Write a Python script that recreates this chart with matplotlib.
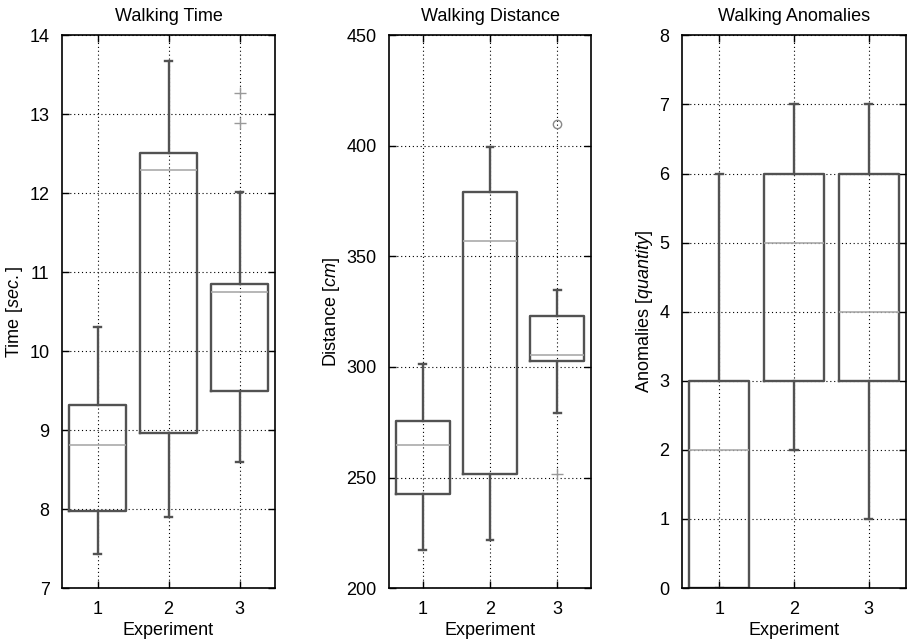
import matplotlib
matplotlib.use("Agg")
import matplotlib.pyplot as plt

plt.rcParams['font.family'] = ['Liberation Sans', 'DejaVu Sans']
plt.rcParams['mathtext.fontset'] = 'custom'
plt.rcParams['mathtext.it'] = 'Liberation Sans:italic'
plt.rcParams['mathtext.rm'] = 'Liberation Sans'

experiments = [1, 2, 3]

# Walking time (sec.)
time_q1 = [7.97, 8.97, 9.50]
time_med = [8.81, 12.30, 10.75]
time_q3 = [9.32, 12.51, 10.85]
time_lo = [7.43, 7.90, 8.60]
time_hi = [10.30, 13.68, 12.01]
time_out_x = [3, 3]
time_out_y = [12.89, 13.27]
time_out_marker = ['+', '+']

# Walking distance (cm)
dist_q1 = [242.6, 251.6, 302.5]
dist_med = [264.5, 357.0, 305.5]
dist_q3 = [275.4, 379.0, 323.0]
dist_lo = [217.0, 221.7, 279.4]
dist_hi = [301.5, 399.5, 335.0]
dist_out_x = [3, 3]
dist_out_y = [251.5, 410.0]
dist_out_marker = ['+', 'o']

# Walking anomalies (quantity)
anom_q1 = [0, 3, 3]
anom_med = [2, 5, 4]
anom_q3 = [3, 6, 6]
anom_lo = [0, 2, 1]
anom_hi = [6, 7, 7]

BOX = '#525252'
MED = '#aaaaaa'


def make_stats(q1, med, q3, lo, hi):
    return [dict(q1=a, med=b, q3=c, whislo=d, whishi=e, fliers=[])
            for a, b, c, d, e in zip(q1, med, q3, lo, hi)]


def draw_panel(ax, stats, title, ylabel, ylim, yticks, out_x=(), out_y=(), out_m=()):
    ax.bxp(stats, positions=experiments, widths=0.8, capwidths=0.1,
           showfliers=False,
           boxprops=dict(color=BOX, linewidth=1.7),
           whiskerprops=dict(color=BOX, linewidth=1.7),
           capprops=dict(color=BOX, linewidth=1.7),
           medianprops=dict(color=MED, linewidth=1.2))
    for x, y, m in zip(out_x, out_y, out_m):
        if m == 'o':
            ax.plot(x, y, marker='o', ms=6, mfc='none', mec='#888888', mew=1.0)
        else:
            ax.plot(x, y, marker='+', ms=8, color='#999999', mew=1.0)
    ax.set_xlim(0.5, 3.5)
    ax.set_ylim(*ylim)
    ax.set_yticks(yticks)
    ax.set_xticks(experiments)
    ax.set_xticklabels([str(e) for e in experiments])
    ax.grid(True, color='black', linestyle=(0, (1, 2.5)), linewidth=0.8)
    ax.set_axisbelow(True)
    ax.tick_params(direction='in', length=5, width=1, labelsize=13, pad=9,
                   top=True, right=True)
    for s in ax.spines.values():
        s.set_linewidth(1.2)
    ax.set_title(title, fontsize=13, pad=10)
    ax.set_xlabel('Experiment', fontsize=13, labelpad=3)
    ax.set_ylabel(ylabel, fontsize=13, labelpad=3)


fig = plt.figure(figsize=(9.08, 6.42), dpi=100)
bottom, height = 0.084, 0.861
ax1 = fig.add_axes([0.0683, bottom, 0.2346, height])
ax2 = fig.add_axes([0.4284, bottom, 0.2225, height])
ax3 = fig.add_axes([0.7511, bottom, 0.2467, height])

draw_panel(ax1, make_stats(time_q1, time_med, time_q3, time_lo, time_hi),
           'Walking Time', r'Time $\mathit{[sec.]}$', (7, 14), range(7, 15),
           time_out_x, time_out_y, time_out_marker)
draw_panel(ax2, make_stats(dist_q1, dist_med, dist_q3, dist_lo, dist_hi),
           'Walking Distance', r'Distance $\mathit{[cm]}$', (200, 450), range(200, 451, 50),
           dist_out_x, dist_out_y, dist_out_marker)
draw_panel(ax3, make_stats(anom_q1, anom_med, anom_q3, anom_lo, anom_hi),
           'Walking Anomalies', r'Anomalies $\mathit{[quantity]}$', (0, 8), range(0, 9))

fig.savefig('out.png', dpi=100)
